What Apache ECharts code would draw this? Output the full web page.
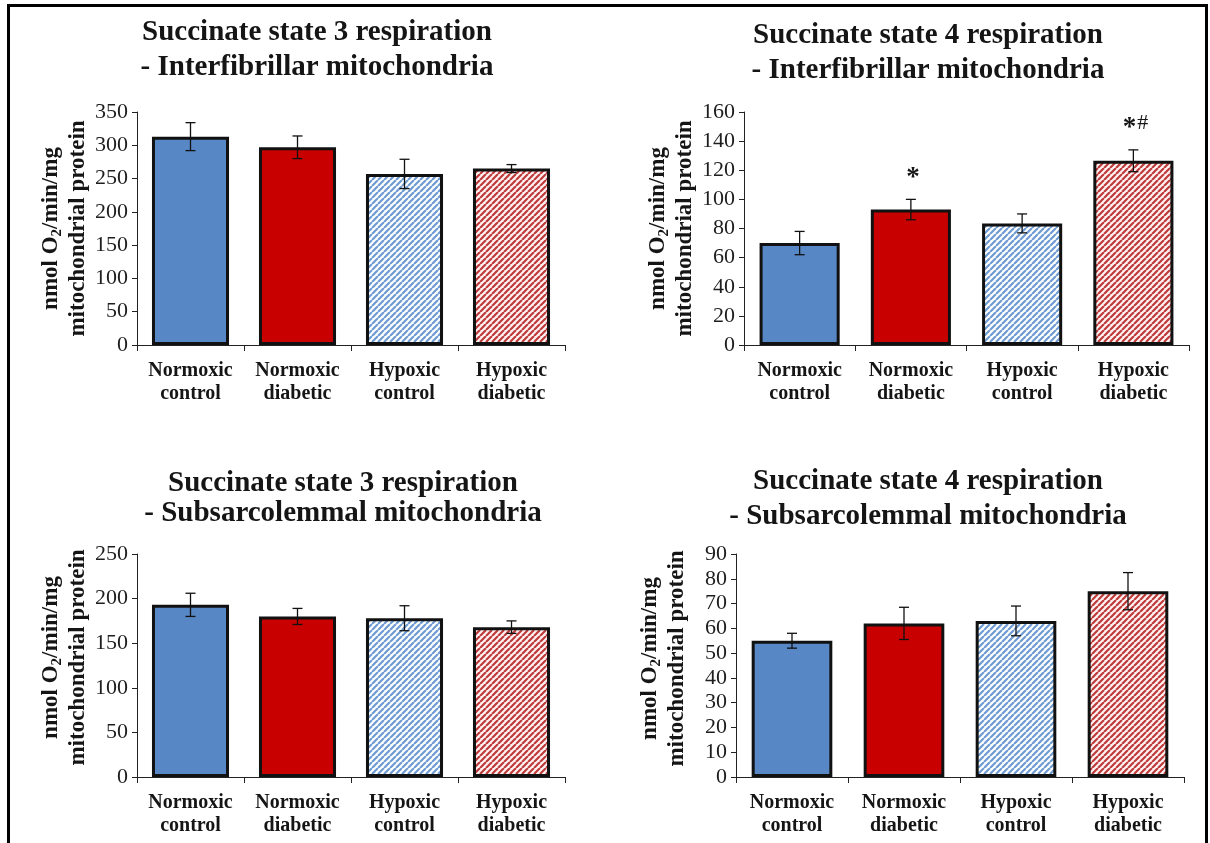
<!DOCTYPE html>
<html>
<head>
<meta charset="utf-8">
<script src="https://cdn.jsdelivr.net/npm/echarts@6/dist/echarts.min.js"></script>
<style>
  html, body { margin: 0; padding: 0; background: #ffffff; }
  #chart { width: 1210px; height: 843px; }
</style>
</head>
<body>
<div id="chart"></div>
<script>
// ---- data ----------------------------------------------------------------
const categories = ['Normoxic\ncontrol', 'Normoxic\ndiabetic', 'Hypoxic\ncontrol', 'Hypoxic\ndiabetic'];

const titleS3Ifm = 'Succinate state 3 respiration\n- Interfibrillar mitochondria';
const titleS4Ifm = 'Succinate state 4 respiration\n- Interfibrillar mitochondria';
const titleS3Ssm = 'Succinate state 3 respiration\n- Subsarcolemmal mitochondria';
const titleS4Ssm = 'Succinate state 4 respiration\n- Subsarcolemmal mitochondria';

// means and SEM, nmol O2/min/mg mitochondrial protein
const s3IfmMean = [313, 297, 257, 265];
const s3IfmErr  = [21, 17, 22, 6];
const s4IfmMean = [70, 93, 83.5, 126.5];
const s4IfmErr  = [8, 7, 6.5, 7.5];
const s3SsmMean = [193, 180, 178, 168];
const s3SsmErr  = [13, 9, 14, 7];
const s4SsmMean = [55, 62, 63, 75];
const s4SsmErr  = [3, 6.5, 6, 7.5];

// significance marks above the bars
const s4IfmSig = ['', '*', '', '*#'];

// y-axis ranges
const s3IfmAxis = { max: 350, step: 50 };
const s4IfmAxis = { max: 160, step: 20 };
const s3SsmAxis = { max: 250, step: 50 };
const s4SsmAxis = { max: 90,  step: 10 };

// ---- styling -------------------------------------------------------------
const SERIF = '"Liberation Serif", "Times New Roman", Times, serif';
const INK = '#151515';

function stripeTile(bg, fg, size, width) {
  const c = document.createElement('canvas');
  c.width = size; c.height = size;
  const g = c.getContext('2d');
  g.fillStyle = bg;
  g.fillRect(0, 0, size, size);
  g.strokeStyle = fg;
  g.lineWidth = width;
  g.beginPath();
  for (const o of [-size, 0, size]) {
    g.moveTo(o, size);
    g.lineTo(o + size, 0);
  }
  g.stroke();
  return c;
}

const fills = [
  '#5887C6',
  '#C90000',
  { image: stripeTile('#ffffff', '#6E9BD2', 6, 2.2), repeat: 'repeat' },
  { image: stripeTile('#fff2f2', '#BF3B3B', 6, 2.2), repeat: 'repeat' }
];

const panels = [
  { title: titleS3Ifm, mean: s3IfmMean, err: s3IfmErr, axis: s3IfmAxis, sig: null,
    grid: { left: 137, top: 112, width: 428, height: 233 },
    head: { x: 317, y: 15, lh: 35 }, nameGap: 45, nameShift: 0 },
  { title: titleS4Ifm, mean: s4IfmMean, err: s4IfmErr, axis: s4IfmAxis, sig: s4IfmSig,
    grid: { left: 744, top: 112, width: 445, height: 233 },
    head: { x: 928, y: 18, lh: 35 }, nameGap: 45, nameShift: 0 },
  { title: titleS3Ssm, mean: s3SsmMean, err: s3SsmErr, axis: s3SsmAxis, sig: null,
    grid: { left: 137, top: 554, width: 428, height: 223 },
    head: { x: 343, y: 469, lh: 30 }, nameGap: 45, nameShift: 16 },
  { title: titleS4Ssm, mean: s4SsmMean, err: s4SsmErr, axis: s4SsmAxis, sig: null,
    grid: { left: 736, top: 554, width: 448, height: 223 },
    head: { x: 928, y: 464, lh: 35 }, nameGap: 45, nameShift: 14 }
];

function errorBarRender(params, api) {
  const x = api.value(0), m = api.value(1), e = api.value(2);
  const top = api.coord([x, m + e]);
  const bot = api.coord([x, m - e]);
  const cw = 5;
  const st = { stroke: '#111', lineWidth: 1.3 };
  return {
    type: 'group',
    children: [
      { type: 'line', shape: { x1: top[0], y1: top[1], x2: bot[0], y2: bot[1] }, style: st },
      { type: 'line', shape: { x1: top[0] - cw, y1: top[1], x2: top[0] + cw, y2: top[1] }, style: st },
      { type: 'line', shape: { x1: bot[0] - cw, y1: bot[1], x2: bot[0] + cw, y2: bot[1] }, style: st }
    ]
  };
}

const sigText = {};
function sigRender(params, api) {
  const x = api.value(0), top = api.value(1) + api.value(2);
  const p = api.coord([x, top]);
  const txt = sigText[params.seriesIndex][params.dataIndex];
  if (!txt) return null;
  const rich = txt.split('').map(ch => ch === '*' ? '{s|*}' : '{h|' + ch + '}').join('');
  return {
    type: 'text',
    style: {
      text: rich,
      x: p[0] + 2, y: p[1] - 8,
      align: 'center', verticalAlign: 'bottom',
      rich: {
        s: { fontFamily: SERIF, fontWeight: 'bold', fontSize: 27, fill: INK, lineHeight: 26, verticalAlign: 'bottom' },
        h: { fontFamily: SERIF, fontSize: 22, fill: INK, lineHeight: 26, verticalAlign: 'bottom', padding: [0, 0, 8, 1] }
      }
    }
  };
}

const option = {
  backgroundColor: '#ffffff',
  animation: false,
  title: [], grid: [], xAxis: [], yAxis: [], series: [],
  graphic: [{
    type: 'rect',
    shape: { x: 8.5, y: 5.5, width: 1198, height: 860 },
    style: { fill: 'none', stroke: '#000', lineWidth: 3 },
    silent: true
  }]
};

panels.forEach((p, i) => {
  option.title.push({
    text: p.title,
    left: p.head.x, top: p.head.y,
    textAlign: 'center',
    padding: 0,
    textStyle: { fontFamily: SERIF, fontWeight: 'bold', fontSize: 29, lineHeight: p.head.lh, color: INK }
  });
  option.grid.push(Object.assign({ containLabel: false }, p.grid));
  option.xAxis.push({
    type: 'category', gridIndex: i, data: categories,
    axisLine: { lineStyle: { color: '#222', width: 1 } },
    axisTick: { show: true, length: 6, lineStyle: { color: '#222' } },
    axisLabel: {
      interval: 0, margin: 14, color: INK,
      fontFamily: SERIF, fontWeight: 'bold', fontSize: 20, lineHeight: 23
    },
    splitLine: { show: false }
  });
  option.yAxis.push({
    type: 'value', gridIndex: i, min: 0, max: p.axis.max, interval: p.axis.step,
    name: '{t|nmol O}{s|2}{t|/min/mg}\n{t|mitochondrial protein}',
    nameLocation: 'middle', nameRotate: 90, nameGap: p.nameGap,
    nameTextStyle: {
      color: INK,
      padding: [0, 0, 0, p.nameShift],
      rich: {
        t: { fontFamily: SERIF, fontWeight: 'bold', fontSize: 23, lineHeight: 27, color: INK },
        s: { fontFamily: SERIF, fontWeight: 'bold', fontSize: 15, lineHeight: 27, verticalAlign: 'bottom', color: INK }
      }
    },
    axisLine: { show: true, lineStyle: { color: '#222', width: 1 } },
    axisTick: { show: true, length: 5, lineStyle: { color: '#222' } },
    axisLabel: { margin: 9, color: '#1e1e1e', fontFamily: SERIF, fontSize: 22 },
    splitLine: { show: false }
  });
  option.series.push({
    type: 'bar', xAxisIndex: i, yAxisIndex: i,
    barCategoryGap: '28%',
    data: p.mean.map((v, k) => ({
      value: v,
      itemStyle: { color: fills[k], borderColor: '#111', borderWidth: 3 }
    })),
    z: 2
  });
  option.series.push({
    type: 'custom', xAxisIndex: i, yAxisIndex: i,
    renderItem: errorBarRender,
    data: p.mean.map((v, k) => [k, v, p.err[k]]),
    z: 5
  });
  if (p.sig) {
    sigText[option.series.length] = p.sig;
    option.series.push({
      type: 'custom', xAxisIndex: i, yAxisIndex: i,
      renderItem: sigRender,
      data: p.mean.map((v, k) => [k, v, p.err[k]]),
      z: 6
    });
  }
});

const chart = echarts.init(document.getElementById('chart'), null, { renderer: 'canvas' });
chart.setOption(option);
</script>
</body>
</html>
